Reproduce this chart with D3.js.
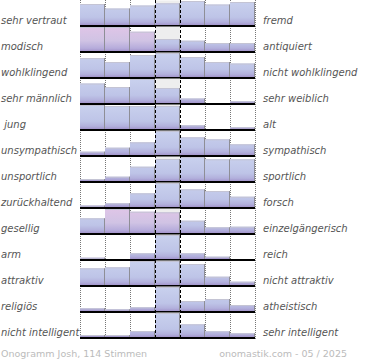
<!DOCTYPE html>
<html><head><meta charset="utf-8">
<script src="https://cdn.jsdelivr.net/npm/d3@7"></script>
<style>
html,body{margin:0;padding:0;background:#fff;}
svg{display:block;}
text{font-family:"DejaVu Sans",sans-serif;}
</style></head>
<body>
<svg id="chart" width="370" height="360"></svg>
<script>
const leftLabels = ["sehr vertraut","modisch","wohlklingend","sehr männlich"," jung","unsympathisch","unsportlich","zurückhaltend","gesellig","arm","attraktiv","religiös","nicht intelligent"];
const rightLabels = ["fremd","antiquiert","nicht wohlklingend","sehr weiblich","alt","sympathisch","sportlich","forsch","einzelgängerisch","reich","nicht attraktiv","atheistisch","sehr intelligent"];
const columns = [0,1,2,3,4,5,6];
const values = [
  [21, 16.5, 19.5, 21.7, 24, 20.5, 23],
  [24, 24, 19.3, 12, 10.3, 8, 8],
  [19, 15, 22, 24, 20, 15, 13.5],
  [19.5, 16, 24, 15, 4.5, 0, 1.7],
  [24, 23, 23, 23, 3.7, 0, 1.7],
  [3.3, 7.3, 12.7, 24, 17.7, 15.7, 10.7],
  [2, 4.3, 14.3, 22, 24, 21.7, 21.7],
  [1.5, 3.7, 13.7, 24, 17.7, 16, 10.3],
  [14.7, 24, 21.3, 20.7, 12.3, 5.7, 6.3],
  [1.3, 0, 5.7, 24, 5.7, 2.3, 0],
  [16.7, 17.7, 24, 24, 21, 8.3, 3.3],
  [2.7, 1.7, 3.7, 24, 10, 12, 6],
  [2, 2, 6, 24, 12.7, 5.7, 3.7]
];
const pinkCells = [[], [0,1,2], [], [], [], [], [], [], [1,2,3], [], [], [], []];
const footerLeft = "Onogramm Josh, 114 Stimmen";
const footerRight = "onomastik.com - 05 / 2025";

const svg = d3.select("#chart");
const x = d3.scaleBand().domain(columns).range([80, 255]).padding(0);
const row = d3.scaleBand().domain(d3.range(leftLabels.length)).range([-1, -1 + 26*leftLabels.length]).padding(0);
const rowH = row.bandwidth();

const defs = svg.append("defs");
function grad(id, stops){
  const g = defs.append("linearGradient").attr("id", id).attr("gradientUnits","userSpaceOnUse")
    .attr("x1",0).attr("x2",0).attr("y1",1).attr("y2",26);
  stops.forEach(s => g.append("stop").attr("offset", s[0]).attr("stop-color", s[1]));
}
grad("gBlue", [[0,"#c9d1ee"],[0.65,"#bec4e7"],[0.85,"#b2b0dc"],[1,"#9e8cc6"]]);
grad("gPink", [[0,"#dfc5e7"],[0.55,"#d0c3e4"],[0.85,"#b6acdb"],[1,"#9e8cc6"]]);

const chartBottom = row.range()[1] + 2;

// dotted grid lines
const dotted = [0,1,2,5,6].map(c => x(c)).concat([x(6) + x.bandwidth()]);
svg.append("g").selectAll("line").data(dotted).join("line")
  .attr("x1", d => d + 0.5).attr("x2", d => d + 0.5)
  .attr("y1", 0).attr("y2", chartBottom)
  .attr("stroke", "#777").attr("stroke-width", 1).attr("stroke-dasharray", "1,1");

const rows = svg.append("g").selectAll("g").data(values).join("g")
  .attr("transform", (d, i) => `translate(0,${row(i) + 1})`);

// center column background
rows.append("rect")
  .attr("x", x(3)).attr("width", x.bandwidth())
  .attr("y", 0.5).attr("height", 24.5).attr("fill", "#eeeeee");

rows.each(function(vals, i){
  const g = d3.select(this);
  const y = d3.scaleLinear().domain([0, d3.max(vals)]).range([25, 1]);
  const data = vals.map((v, c) => ({v, c, pink: pinkCells[i].includes(c)}));
  g.selectAll("rect.bar").data(data.filter(d => d.v > 0)).join("rect").attr("class","bar")
    .attr("x", d => x(d.c)).attr("width", x.bandwidth())
    .attr("y", d => y(d.v)).attr("height", d => 25 - y(d.v))
    .attr("fill", d => d.pink ? "url(#gPink)" : "url(#gBlue)");
  g.selectAll("line.top").data(data.filter(d => d.v > 0)).join("line").attr("class","top")
    .attr("x1", d => x(d.c)).attr("x2", d => x(d.c) + x.bandwidth())
    .attr("y1", d => y(d.v) + 0.5).attr("y2", d => y(d.v) + 0.5)
    .attr("stroke", "#c4c4d4").attr("stroke-width", 1);
  g.selectAll("line.edge").data(data.filter(d => d.v > 0)).join("line").attr("class","edge")
    .attr("x1", d => x(d.c) + x.bandwidth() - 0.5).attr("x2", d => x(d.c) + x.bandwidth() - 0.5)
    .attr("y1", d => y(d.v)).attr("y2", 25)
    .attr("stroke", "#8e8e96").attr("stroke-width", 1);
  g.append("rect").attr("x", 80).attr("width", 175).attr("y", 25).attr("height", 2).attr("fill", "#000");
});

// center dashed lines
svg.append("g").selectAll("line").data([x(3), x(4)]).join("line")
  .attr("x1", d => d + 0.5).attr("x2", d => d + 0.5)
  .attr("y1", 0).attr("y2", chartBottom)
  .attr("stroke", "#000").attr("stroke-width", 1).attr("stroke-dasharray", "3,2");

// labels
svg.append("g").selectAll("text").data(leftLabels).join("text")
  .attr("x", 1).attr("y", (d, i) => row(i) + 24.5)
  .attr("font-size", 10).attr("font-style", "italic").attr("fill", "#555")
  .style("white-space", "pre").text(d => d);
svg.append("g").selectAll("text").data(rightLabels).join("text")
  .attr("x", 263).attr("y", (d, i) => row(i) + 24.5)
  .attr("font-size", 10).attr("font-style", "italic").attr("fill", "#555")
  .text(d => d);

svg.append("text").attr("x", 1).attr("y", 357).attr("font-size", 9.5).attr("fill", "#bbb").text(footerLeft);
svg.append("text").attr("x", 347).attr("y", 357).attr("text-anchor", "end").attr("font-size", 9.5).attr("fill", "#bbb").text(footerRight);
</script>
</body></html>
